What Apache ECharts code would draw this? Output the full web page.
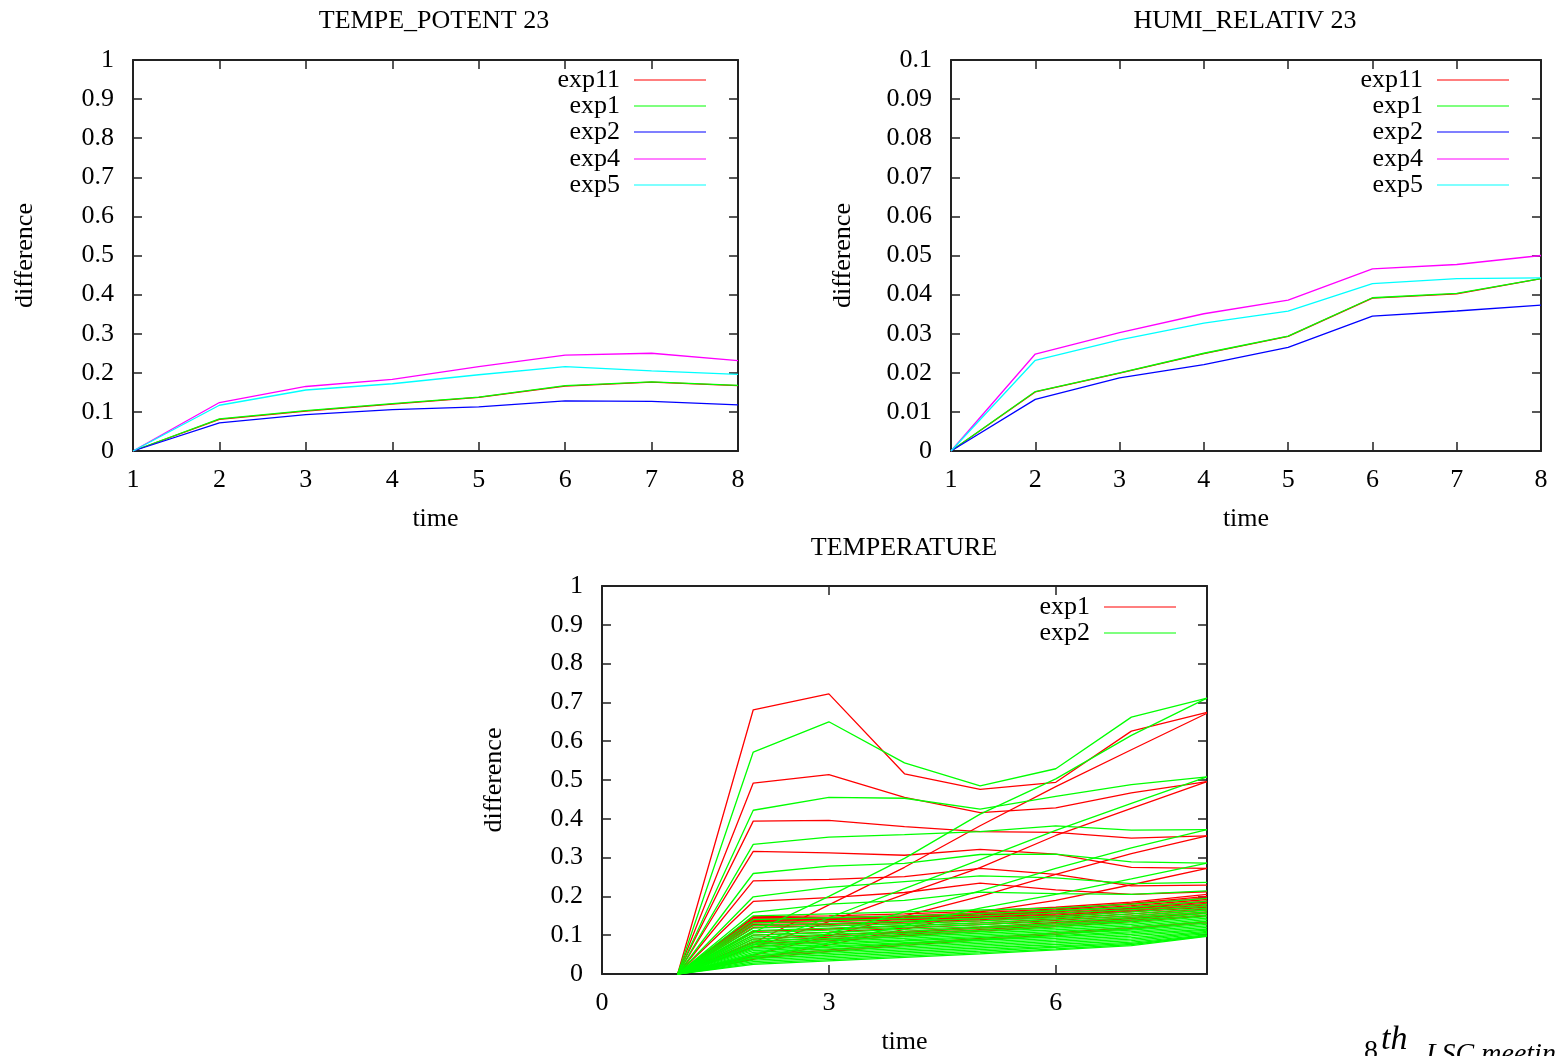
<!DOCTYPE html>
<html><head><meta charset="utf-8">
<script src="https://cdn.jsdelivr.net/npm/echarts/dist/echarts.min.js"></script>
<style>html,body{margin:0;padding:0;background:#fff}#c{width:1556px;height:1056px}</style>
</head><body><div id="c"></div>
<script>
// ---------- data ----------
const times = [1, 2, 3, 4, 5, 6, 7, 8];

// TEMPE_POTENT 23
const tpExp11 = [0, 0.081, 0.102, 0.120, 0.137, 0.166, 0.176, 0.167];
const tpExp1  = [0, 0.082, 0.103, 0.121, 0.138, 0.167, 0.177, 0.168];
const tpExp2  = [0, 0.072, 0.093, 0.106, 0.113, 0.128, 0.127, 0.118];
const tpExp4  = [0, 0.124, 0.165, 0.183, 0.216, 0.245, 0.250, 0.231];
const tpExp5  = [0, 0.117, 0.156, 0.172, 0.195, 0.216, 0.205, 0.196];

// HUMI_RELATIV 23
const hrExp11 = [0, 0.0151, 0.0199, 0.0249, 0.0293, 0.0391, 0.0402, 0.0441];
const hrExp1  = [0, 0.0152, 0.0200, 0.0250, 0.0294, 0.0392, 0.0403, 0.0441];
const hrExp2  = [0, 0.0132, 0.0187, 0.0221, 0.0265, 0.0345, 0.0358, 0.0373];
const hrExp4  = [0, 0.0248, 0.0303, 0.0351, 0.0386, 0.0466, 0.0477, 0.0500];
const hrExp5  = [0, 0.0232, 0.0284, 0.0327, 0.0358, 0.0428, 0.0441, 0.0443];

// TEMPERATURE: exp1 (red) lines
const tExp1Lines = [
  [0, 0.681, 0.722, 0.516, 0.476, 0.494, 0.626, 0.674],
  [0, 0.492, 0.514, 0.455, 0.416, 0.428, 0.467, 0.496],
  [0, 0.394, 0.396, 0.380, 0.367, 0.365, 0.350, 0.356],
  [0, 0.316, 0.312, 0.306, 0.321, 0.309, 0.275, 0.272],
  [0, 0.240, 0.244, 0.251, 0.272, 0.257, 0.227, 0.229],
  [0, 0.187, 0.197, 0.210, 0.234, 0.217, 0.205, 0.212],
  [0, 0.080, 0.178, 0.275, 0.382, 0.483, 0.578, 0.672],
  [0, 0.068, 0.135, 0.205, 0.274, 0.357, 0.427, 0.496],
  [0, 0.048, 0.098, 0.150, 0.200, 0.257, 0.310, 0.356],
  [0, 0.038, 0.075, 0.115, 0.160, 0.190, 0.230, 0.272],
  [0, 0.148, 0.150, 0.155, 0.162, 0.172, 0.185, 0.205],
  [0, 0.145, 0.146, 0.150, 0.158, 0.168, 0.182, 0.200],
  [0, 0.142, 0.143, 0.148, 0.155, 0.165, 0.180, 0.196],
  [0, 0.140, 0.141, 0.145, 0.152, 0.162, 0.176, 0.192],
  [0, 0.138, 0.139, 0.143, 0.150, 0.160, 0.173, 0.188],
  [0, 0.135, 0.137, 0.141, 0.148, 0.157, 0.170, 0.185],
  [0, 0.132, 0.135, 0.140, 0.146, 0.155, 0.168, 0.182],
  [0, 0.128, 0.130, 0.136, 0.143, 0.152, 0.165, 0.178],
  [0, 0.125, 0.128, 0.134, 0.140, 0.150, 0.162, 0.175],
  [0, 0.120, 0.124, 0.130, 0.137, 0.147, 0.160, 0.172],
  [0, 0.110, 0.116, 0.124, 0.132, 0.142, 0.155, 0.168],
  [0, 0.100, 0.108, 0.118, 0.127, 0.138, 0.150, 0.165],
  [0, 0.090, 0.100, 0.110, 0.121, 0.133, 0.146, 0.160],
  [0, 0.082, 0.095, 0.107, 0.118, 0.130, 0.143, 0.157],
  [0, 0.076, 0.090, 0.102, 0.114, 0.126, 0.139, 0.152],
  [0, 0.070, 0.085, 0.098, 0.110, 0.122, 0.135, 0.150],
  [0, 0.045, 0.062, 0.078, 0.092, 0.106, 0.120, 0.135],
  [0, 0.040, 0.058, 0.074, 0.088, 0.102, 0.117, 0.132]
];

// TEMPERATURE: exp2 (green) lines
const tExp2Lines = [
  [0, 0.572, 0.650, 0.544, 0.485, 0.529, 0.662, 0.711],
  [0, 0.422, 0.455, 0.453, 0.425, 0.458, 0.488, 0.508],
  [0, 0.334, 0.353, 0.359, 0.367, 0.382, 0.371, 0.372],
  [0, 0.259, 0.278, 0.285, 0.308, 0.309, 0.289, 0.286],
  [0, 0.199, 0.223, 0.238, 0.253, 0.248, 0.233, 0.236],
  [0, 0.159, 0.180, 0.190, 0.211, 0.207, 0.205, 0.214],
  [0, 0.107, 0.200, 0.298, 0.412, 0.503, 0.615, 0.711],
  [0, 0.075, 0.145, 0.220, 0.295, 0.370, 0.440, 0.508],
  [0, 0.050, 0.105, 0.160, 0.214, 0.272, 0.325, 0.372],
  [0, 0.040, 0.080, 0.125, 0.170, 0.205, 0.245, 0.286],
  [0, 0.150, 0.155, 0.160, 0.165, 0.170, 0.180, 0.195],
  [0, 0.140, 0.145, 0.150, 0.156, 0.163, 0.172, 0.188],
  [0, 0.132, 0.137, 0.143, 0.150, 0.157, 0.166, 0.180],
  [0, 0.125, 0.130, 0.136, 0.143, 0.150, 0.160, 0.175],
  [0, 0.118, 0.124, 0.130, 0.137, 0.145, 0.155, 0.170],
  [0, 0.112, 0.118, 0.125, 0.132, 0.140, 0.150, 0.165],
  [0, 0.106, 0.113, 0.120, 0.127, 0.135, 0.145, 0.160],
  [0, 0.100, 0.107, 0.115, 0.122, 0.130, 0.140, 0.156],
  [0, 0.095, 0.102, 0.110, 0.118, 0.126, 0.136, 0.152],
  [0, 0.090, 0.097, 0.105, 0.113, 0.122, 0.132, 0.148],
  [0, 0.085, 0.092, 0.100, 0.109, 0.118, 0.128, 0.144],
  [0, 0.080, 0.088, 0.096, 0.105, 0.114, 0.124, 0.140],
  [0, 0.076, 0.084, 0.092, 0.101, 0.110, 0.120, 0.136],
  [0, 0.072, 0.080, 0.088, 0.097, 0.106, 0.116, 0.132],
  [0, 0.068, 0.076, 0.085, 0.094, 0.103, 0.113, 0.128],
  [0, 0.064, 0.072, 0.081, 0.090, 0.099, 0.109, 0.124],
  [0, 0.060, 0.069, 0.078, 0.087, 0.096, 0.106, 0.120],
  [0, 0.056, 0.065, 0.074, 0.083, 0.092, 0.102, 0.116],
  [0, 0.052, 0.061, 0.070, 0.079, 0.088, 0.098, 0.113],
  [0, 0.048, 0.057, 0.066, 0.075, 0.084, 0.094, 0.110],
  [0, 0.044, 0.053, 0.062, 0.071, 0.080, 0.090, 0.107],
  [0, 0.040, 0.049, 0.058, 0.067, 0.076, 0.086, 0.104],
  [0, 0.036, 0.045, 0.054, 0.063, 0.072, 0.082, 0.101],
  [0, 0.032, 0.041, 0.050, 0.059, 0.069, 0.079, 0.099],
  [0, 0.028, 0.037, 0.046, 0.055, 0.065, 0.076, 0.098],
  [0, 0.025, 0.034, 0.043, 0.052, 0.062, 0.073, 0.097]
];

const titles = ['TEMPE_POTENT 23', 'HUMI_RELATIV 23', 'TEMPERATURE'];
const xName = 'time';
const yName = 'difference';
const legendTop = ['exp11', 'exp1', 'exp2', 'exp4', 'exp5'];
const legendBottom = ['exp1', 'exp2'];

// ---------- chart ----------
const FONT = "'Liberation Serif', 'Times New Roman', serif";
const FS = 26;
const AX = '#222';
const LW = 1.3;
const RED = '#ff0000', GREEN = '#00ff00', BLUE = '#0000ff', MAG = '#ff00ff', CYAN = '#00ffff';

const grids = [
  { left: 133, top: 60, width: 605, height: 391 },
  { left: 951, top: 60, width: 590, height: 391 },
  { left: 602, top: 586, width: 605, height: 391 }
];
const xr = [ {min: 1, max: 8, interval: 1}, {min: 1, max: 8, interval: 1}, {min: 0, max: 8, interval: 3} ];
const yr = [ {min: 0, max: 1, interval: 0.1}, {min: 0, max: 0.1, interval: 0.01}, {min: 0, max: 1, interval: 0.1} ];

const xAxes = [], yAxes = [];
grids.forEach((g, i) => {
  const base = {
    type: 'value', gridIndex: i, splitLine: {show: false},
    axisLine: {show: true, onZero: false, lineStyle: {color: AX, width: 2}},
    axisTick: {show: true, inside: true, length: 9, lineStyle: {color: AX, width: 1.5}},
  };
  xAxes.push(Object.assign({}, base, xr[i], {
    position: 'bottom',
    axisLabel: {show: true, margin: 16, fontSize: FS, fontFamily: FONT, color: '#000',
                showMaxLabel: i === 2 ? false : true},
    name: xName, nameLocation: 'middle', nameGap: 55,
    nameTextStyle: {fontSize: FS, fontFamily: FONT, color: '#000'}
  }));
  xAxes.push(Object.assign({}, base, xr[i], { position: 'top', axisLabel: {show: false} }));
  yAxes.push(Object.assign({}, base, yr[i], {
    position: 'left',
    axisLabel: {show: true, margin: 19, fontSize: FS, fontFamily: FONT, color: '#000', padding: [4, 0, 0, 0]},
    name: yName, nameLocation: 'middle', nameGap: 95, nameRotate: 90,
    nameTextStyle: {fontSize: FS, fontFamily: FONT, color: '#000'}
  }));
  yAxes.push(Object.assign({}, base, yr[i], { position: 'right', axisLabel: {show: false} }));
});

function mk(id, color, gi, vals) {
  return {
    type: 'line', name: id, xAxisIndex: gi * 2, yAxisIndex: gi * 2,
    data: times.map((t, k) => [t, vals[k]]),
    symbol: 'none', silent: true, animation: false,
    lineStyle: {color: color, width: LW}, itemStyle: {color: color}
  };
}

const series = [];
const topColors = [RED, GREEN, BLUE, MAG, CYAN];
[tpExp11, tpExp1, tpExp2, tpExp4, tpExp5].forEach((v, k) => series.push(mk('a:' + legendTop[k], topColors[k], 0, v)));
[hrExp11, hrExp1, hrExp2, hrExp4, hrExp5].forEach((v, k) => series.push(mk('b:' + legendTop[k], topColors[k], 1, v)));
tExp1Lines.forEach(v => series.push(mk('c:' + legendBottom[0], RED, 2, v)));
tExp2Lines.forEach(v => series.push(mk('c:' + legendBottom[1], GREEN, 2, v)));

const legends = [];
function addLegend(id, right, cy) {
  legends.push({
    data: [id], right: right, top: cy - 13, orient: 'horizontal', align: 'right',
    icon: 'rect', itemWidth: 72, itemHeight: 1, padding: 0, selectedMode: false,
    formatter: n => n.slice(2),
    textStyle: {fontSize: FS, fontFamily: FONT, color: '#000', lineHeight: 26, padding: [4, 9, 0, 0]}
  });
}
const topYs = [78, 104, 130, 157, 183];
legendTop.forEach((n, k) => addLegend('a:' + n, 850, topYs[k]));
legendTop.forEach((n, k) => addLegend('b:' + n, 47, topYs[k]));
legendBottom.forEach((n, k) => addLegend('c:' + n, 380, [605, 631][k]));

const titleCfg = [
  {text: titles[0], left: 434, top: 8},
  {text: titles[1], left: 1245, top: 8},
  {text: titles[2], left: 904, top: 535}
].map(t => Object.assign(t, {textAlign: 'center', padding: 0,
  textStyle: {fontSize: FS, fontWeight: 'normal', fontFamily: FONT, color: '#000'}}));

const chart = echarts.init(document.getElementById('c'), null, {renderer: 'canvas'});
chart.setOption({
  animation: false,
  backgroundColor: '#fff',
  title: titleCfg,
  grid: grids,
  xAxis: xAxes,
  yAxis: yAxes,
  legend: legends,
  series: series,
  graphic: [
    {type: 'text', left: 1364, top: 1038, style: {text: '8', fontSize: 28, fontFamily: FONT, fill: '#000'}},
    {type: 'text', left: 1381, top: 1023, style: {text: 'th', fontSize: 34, fontStyle: 'italic', fontFamily: FONT, fill: '#000'}},
    {type: 'text', left: 1426, top: 1041, style: {text: 'LSC meeting', fontSize: 28, fontStyle: 'italic', fontFamily: FONT, fill: '#000'}}
  ]
});
</script>
</body></html>
